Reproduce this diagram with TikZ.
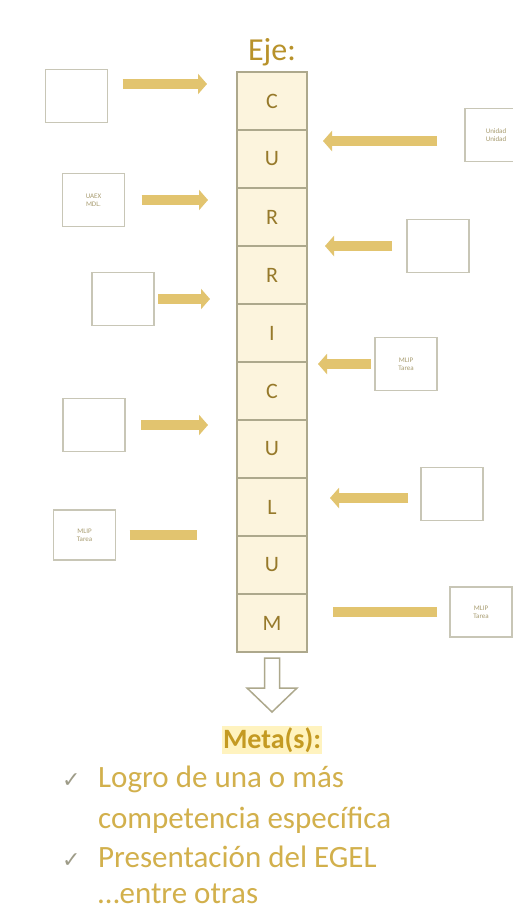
\documentclass[tikz,border=0pt]{standalone}
\usepackage{fontspec}
\setmainfont{Carlito}
\newfontfamily\checkfont{DejaVu Sans}
\usepackage{tikz}
\usetikzlibrary{arrows.meta, positioning}
\definecolor{EjeGold}{HTML}{B8922A}
\definecolor{CellCream}{HTML}{FCF4DD}
\definecolor{CellLine}{HTML}{ADA88C}
\definecolor{ArrowGold}{HTML}{E2C46F}
\definecolor{LetterOlive}{HTML}{96792A}
\definecolor{BoxLine}{HTML}{C8C6B6}
\definecolor{BoxText}{HTML}{A89C70}
\definecolor{MetaGold}{HTML}{C49A22}
\definecolor{MetaGlow}{HTML}{FFF3BF}
\definecolor{ListGold}{HTML}{D2B04C}
\definecolor{CheckGray}{HTML}{9E9C88}
\tikzset{
  cell/.style={draw=CellLine, fill=CellCream, line width=1.2pt, minimum width=70pt, minimum height=58pt, inner sep=0pt, outer sep=0pt, text=LetterOlive, font=\fontsize{22}{24}\selectfont},
  sidebox/.style={draw=BoxLine, fill=white, line width=1.2pt, minimum width=62pt, minimum height=53pt, inner sep=1pt, outer sep=0pt, text=BoxText, font=\fontsize{7}{8}\selectfont, align=center},
  fatarrow/.style={draw=ArrowGold, line width=10pt, -{Triangle[length=9pt, width=20pt]}},
  fatbar/.style={draw=ArrowGold, line width=10pt},
  hollow/.style={draw=CellLine, fill=white, line width=1.5pt, line join=miter},
  listline/.style={anchor=base west, text=ListGold, font=\fontsize{31}{34}\selectfont, inner sep=0pt},
  checkmark/.style={anchor=base west, text=CheckGray, font=\checkfont\fontsize{22}{24}\selectfont, inner sep=0pt},
}

\begin{document}
\begin{tikzpicture}[x=1pt, y=-1pt]

    % Frame
    \useasboundingbox[fill=white] (0,0) rectangle (513,913);

    % Axis column
    \node[cell] (c1) at (272,101) {C};
    \node[cell, below=0pt of c1] (c2) {U};
    \node[cell, below=0pt of c2] (c3) {R};
    \node[cell, below=0pt of c3] (c4) {R};
    \node[cell, below=0pt of c4] (c5) {I};
    \node[cell, below=0pt of c5] (c6) {C};
    \node[cell, below=0pt of c6] (c7) {U};
    \node[cell, below=0pt of c7] (c8) {L};
    \node[cell, below=0pt of c8] (c9) {U};
    \node[cell, below=0pt of c9] (c10) {M};
    \node[above=2pt of c1, text=EjeGold, font=\fontsize{32}{36}\selectfont] (eje) {Eje:};

    % Left boxes
    \node[sidebox] (lb1) at (76.5,96) {};
    \node[sidebox] (lb2) at (93.5,200) {UAEX\\MDL.};
    \node[sidebox] (lb3) at (123,299) {};
    \node[sidebox] (lb4) at (94,425) {};
    \node[sidebox, minimum height=50pt] (lb5) at (84.5,535) {MLIP\\Tarea};

    \draw[fatarrow, shorten <=15pt, shorten >=30pt] ([yshift=12pt]lb1.east) -- ([yshift=12pt]lb1.east -| c1.west);
    \draw[fatarrow, shorten <=17pt, shorten >=29pt] (lb2.east) -- (lb2.east -| c3.west);
    \draw[fatarrow, shorten <=4pt, shorten >=27pt] (lb3.east) -- (lb3.east -| c4.west);
    \draw[fatarrow, shorten <=16pt, shorten >=29pt] (lb4.east) -- (lb4.east -| c7.west);
    \draw[fatbar, shorten <=14pt, shorten >=40pt] (lb5.east) -- (lb5.east -| c9.west);

    % Right boxes
    \node[sidebox] (rb1) at (496,135) {Unidad\\Unidad};
    \node[sidebox] (rb2) at (438,246) {};
    \node[sidebox] (rb3) at (406,364) {MLIP\\Tarea};
    \node[sidebox] (rb4) at (452,494) {};
    \node[sidebox, minimum height=50pt] (rb5) at (481,612) {MLIP\\Tarea};

    \draw[fatarrow, shorten <=28pt, shorten >=16pt] ([yshift=-6pt]rb1.west) -- ([yshift=-6pt]rb1.west -| c2.east);
    \draw[fatarrow, shorten <=15pt, shorten >=18pt] (rb2.west) -- (rb2.west -| c4.east);
    \draw[fatarrow, shorten <=4pt, shorten >=11pt] (rb3.west) -- (rb3.west -| c6.east);
    \draw[fatarrow, shorten <=13pt, shorten >=23pt] ([yshift=-4pt]rb4.west) -- ([yshift=-4pt]rb4.west -| c8.east);
    \draw[fatbar, shorten <=13pt, shorten >=26pt] (rb5.west) -- (rb5.west -| c10.east);

    % Goal arrow
    \coordinate[below=6pt of c10] (dtop);
    \draw[hollow] ([xshift=-7.5pt]dtop) -- ++(0,30) -- ++(-17.5,0) -- ++(25,24) -- ++(25,-24) -- ++(-17.5,0) -- ++(0,-30) -- cycle;

    % Goals
    \node[fill=MetaGlow, inner sep=1pt, text=MetaGold, font=\bfseries\fontsize{28}{32}\selectfont] (meta) at (272,740) {Meta(s):};
    \node[checkmark] (chk1) at (62,787) {✓};
    \node[listline] (g1) at (98,787) {Logro de una o más};
    \node[listline] (g2) at (98,828) {competencia específica};
    \node[checkmark] (chk2) at (62,867) {✓};
    \node[listline] (g3) at (98,867) {Presentación del EGEL};
    \node[listline] (g4) at (98,903) {…entre otras};

\end{tikzpicture}
\end{document}
